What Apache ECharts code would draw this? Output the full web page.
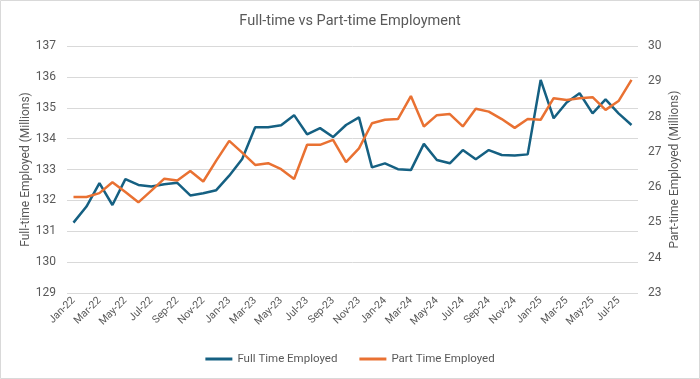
<!DOCTYPE html>
<html><head><meta charset="utf-8">
<script src="https://cdn.jsdelivr.net/npm/echarts@6/dist/echarts.min.js"></script>
<style>html,body{margin:0;padding:0;background:#fff}#c{width:700px;height:379px}</style>
</head><body><div id="c"></div>
<script>
const categories = ["Jan-22","Feb-22","Mar-22","Apr-22","May-22","Jun-22","Jul-22","Aug-22","Sep-22","Oct-22","Nov-22","Dec-22",
"Jan-23","Feb-23","Mar-23","Apr-23","May-23","Jun-23","Jul-23","Aug-23","Sep-23","Oct-23","Nov-23","Dec-23",
"Jan-24","Feb-24","Mar-24","Apr-24","May-24","Jun-24","Jul-24","Aug-24","Sep-24","Oct-24","Nov-24","Dec-24",
"Jan-25","Feb-25","Mar-25","Apr-25","May-25","Jun-25","Jul-25","Aug-25"];
const fullTime = [131.28,131.8,132.56,131.85,132.69,132.50,132.45,132.52,132.57,132.16,132.23,132.33,
132.80,133.34,134.37,134.37,134.43,134.76,134.14,134.34,134.05,134.44,134.69,133.07,
133.20,133.01,132.98,133.83,133.31,133.20,133.63,133.33,133.63,133.47,133.45,133.49,
135.90,134.66,135.17,135.47,134.82,135.27,134.82,134.44];
const partTime = [25.72,25.72,25.83,26.14,25.86,25.57,25.90,26.24,26.19,26.46,26.16,26.75,
27.31,26.98,26.63,26.68,26.51,26.23,27.20,27.20,27.34,26.71,27.10,27.81,
27.91,27.93,28.58,27.72,28.04,28.07,27.72,28.22,28.14,27.93,27.68,27.93,
27.91,28.52,28.47,28.52,28.55,28.19,28.44,29.04];
const leftTicks = {min:129, max:137, interval:1};
const rightTicks = {min:23, max:30, interval:1};

const FONT = 'Roboto';
const GREY = '#595959';
const chart = echarts.init(document.getElementById('c'), null, {renderer:'canvas'});
chart.setOption({
  animation:false,
  textStyle:{fontFamily:FONT},
  graphic:[{type:'rect',shape:{x:0.5,y:0.5,width:699,height:378},style:{fill:'none',stroke:'#d9d9d9',lineWidth:1},silent:true}],
  title:{text:'Full-time vs Part-time Employment',left:'center',top:9,
    textStyle:{fontFamily:FONT,fontSize:14.5,fontWeight:'normal',color:GREY}},
  legend:{bottom:9,left:'center',icon:'rect',itemWidth:27,itemHeight:3,itemGap:22,
    textStyle:{fontFamily:FONT,fontSize:11.5,color:GREY},
    data:['Full Time Employed','Part Time Employed']},
  grid:{left:67,right:62,top:46,bottom:86,containLabel:false},
  xAxis:{type:'category',data:categories,boundaryGap:true,
    axisLine:{show:false},axisTick:{show:false},
    axisLabel:{interval:1,rotate:45,fontSize:10.5,color:GREY,margin:6,fontFamily:FONT}},
  yAxis:[
    {type:'value',min:leftTicks.min,max:leftTicks.max,interval:leftTicks.interval,
     name:'Full-time Employed (Millions)',nameLocation:'middle',nameGap:35,nameMoveOverlap:false,
     nameTextStyle:{fontSize:12,color:GREY,fontFamily:FONT},
     axisLabel:{fontSize:12,color:GREY,margin:11},
     axisLine:{show:false},axisTick:{show:false},
     splitLine:{lineStyle:{color:'#d9d9d9',width:1}}},
    {type:'value',min:rightTicks.min,max:rightTicks.max,interval:rightTicks.interval,position:'right',
     name:'Part-time Employed (Millions)',nameLocation:'middle',nameGap:31,nameRotate:90,nameMoveOverlap:false,
     nameTextStyle:{fontSize:12,color:GREY,fontFamily:FONT},
     axisLabel:{fontSize:12,color:GREY,margin:10},
     axisLine:{show:false},axisTick:{show:false},splitLine:{show:false}}
  ],
  series:[
    {name:'Full Time Employed',type:'line',data:fullTime,yAxisIndex:0,showSymbol:false,
     lineStyle:{color:'#156082',width:2.5},itemStyle:{color:'#156082'}},
    {name:'Part Time Employed',type:'line',data:partTime,yAxisIndex:1,showSymbol:false,
     lineStyle:{color:'#e97132',width:2.5},itemStyle:{color:'#e97132'}}
  ]
});
</script></body></html>
